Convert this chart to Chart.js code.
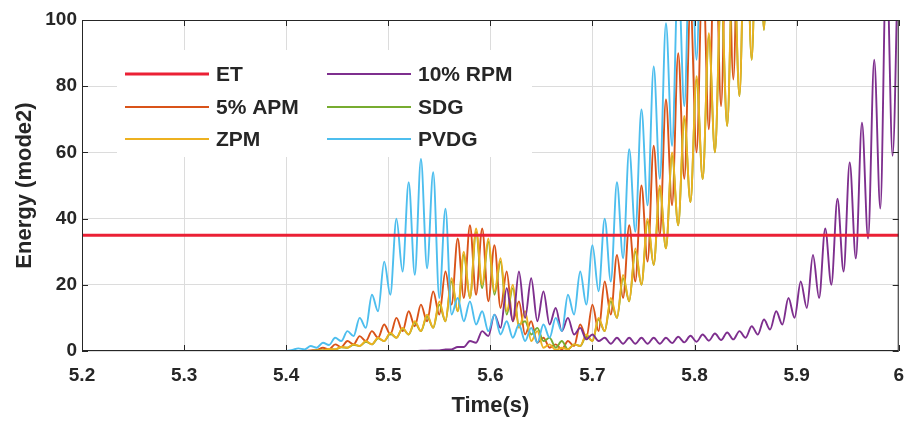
<!DOCTYPE html>
<html lang="en">
<head>
  <meta charset="UTF-8">
  <title>Energy (mode2)</title>
  <style>
    body {
      margin: 0;
      padding: 0;
      background: #ffffff;
    }

    .chart-box {
      width: 917px;
      height: 422px;
    }
  </style>
</head>
<body>
  <div class="chart-box">
    <canvas id="energyChart" width="917" height="422"></canvas>
  </div>

  <script src="https://cdn.jsdelivr.net/npm/chart.js"></script>
  <script>
    // time axis (s) shared by the oscillating series: 5.2 then every 6 ms from 5.4
    const times = [
      5.2,
      5.400, 5.406, 5.412, 5.418, 5.424, 5.430, 5.436, 5.442, 5.448, 5.454,
      5.460, 5.466, 5.472, 5.478, 5.484, 5.490, 5.496, 5.502, 5.508, 5.514,
      5.520, 5.526, 5.532, 5.538, 5.544, 5.550, 5.556, 5.562, 5.568, 5.574,
      5.580, 5.586, 5.592, 5.598, 5.604, 5.610, 5.616, 5.622, 5.628, 5.634,
      5.640, 5.646, 5.652, 5.658, 5.664, 5.670, 5.676, 5.682, 5.688, 5.694,
      5.700, 5.706, 5.712, 5.718, 5.724, 5.730, 5.736, 5.742, 5.748, 5.754,
      5.760, 5.766, 5.772, 5.778, 5.784, 5.790, 5.796, 5.802, 5.808, 5.814,
      5.820, 5.826, 5.832, 5.838, 5.844, 5.850, 5.856, 5.862, 5.868, 5.874,
      5.880, 5.886, 5.892, 5.898, 5.904, 5.910, 5.916, 5.922, 5.928, 5.934,
      5.940, 5.946, 5.952, 5.958, 5.964, 5.970, 5.976, 5.982, 5.988, 5.994,
      6.000
    ];

    // energy threshold
    const etTime = [5.2, 6.0];
    const etEnergy = [35, 35];

    // energy values (peaks / troughs)
    const pvdg = [
      0,
      0, 0.3, 0.8, 0.5, 1.5, 1, 2.5, 1.8, 4, 3,
      6, 4.5, 10, 7, 17, 12, 27, 17, 40, 24,
      51, 23, 58, 25, 54, 16, 43, 11, 16, 9,
      15, 8, 12, 6, 11, 5, 9, 4, 8, 3,
      7, 2.5, 8, 4, 10, 6, 17, 11, 24, 14,
      32, 18, 40, 21, 51, 28, 61, 36, 73, 44,
      86, 52, 99, 62, 115, 74, 130, 88, 150, 103,
      170
    ];

    const apm = [
      0,
      0, 0, 0, 0, 0.2, 0.3, 1, 0.5, 2, 1.2,
      3, 2, 4.5, 3, 6, 4, 8, 5, 10, 6,
      12, 7.5, 14, 9, 18, 11, 24, 14, 34, 16,
      38, 17, 37, 15, 32, 13, 24, 9, 15, 5,
      9, 2.5, 4, 1, 2, 0.5, 3, 1.5, 8, 4,
      14, 6, 21, 11, 29, 16, 38, 21, 50, 27,
      62, 35, 76, 44, 90, 52, 105, 60, 118, 67,
      130, 74, 140, 82, 150, 100, 170
    ];

    const zpm = [
      0,
      0, 0, 0, 0, 0, 0.2, 0.2, 0.6, 0.5, 1.2,
      1, 2, 1.5, 3, 2, 4, 3, 5.5, 4, 7,
      5, 9, 6, 11, 7, 15, 9, 22, 12, 30,
      16, 37, 20, 34, 18, 28, 12, 20, 7, 12,
      3, 6, 1, 2, 0.3, 1, 0.5, 2, 1.5, 5,
      3, 10, 6, 16, 10, 23, 15, 31, 20, 40,
      26, 50, 31, 60, 38, 71, 45, 83, 52, 96,
      60, 110, 68, 125, 77, 140, 88, 155, 97, 170,
      130
    ];

    const sdg = [
      0,
      0, 0, 0, 0, 0, 0.2, 0.2, 0.5, 0.5, 1.1,
      1, 1.9, 1.5, 2.8, 2, 3.8, 3, 5.2, 4, 6.8,
      5, 8.6, 6, 10.5, 7, 14, 9, 21, 12, 29,
      16, 36, 19, 33, 17, 27, 11, 19, 8, 9,
      5, 7, 3, 4, 1, 3, 0.5, 2, 1.5, 4.5,
      3, 9.5, 6, 15, 10, 22, 15, 30, 20, 39,
      26, 49, 31, 59, 38, 70, 45, 82, 52, 95,
      60, 108, 68, 122, 77, 138, 88, 152, 97, 168
    ];

    const rpm = [
      0,
      0, 0, 0, 0, 0, 0, 0, 0, 0, 0,
      0, 0, 0, 0, 0, 0, 0, 0, 0, 0,
      0, 0, 0.1, 0.1, 0.2, 0.2, 0.5, 0.5, 1.2, 1.2,
      3, 2.5, 6, 4.5, 11, 7, 19, 9, 24, 10,
      22, 9, 18, 8, 13, 6, 10, 5, 7, 3.5,
      5, 3, 4, 2.2, 4, 2.2, 4, 2.2, 4, 2.2,
      4, 2.2, 4, 2.4, 4.3, 2.6, 4.6, 2.8, 5, 3.1,
      5.3, 3.3, 5.6, 3.5, 6, 4, 7.5, 5, 9.5, 6.5,
      12, 8, 16, 10, 21, 13, 29, 16, 37, 20,
      46, 24, 57, 28, 69, 34, 88, 43, 120, 59,
      130
    ];

    const FONT = "'Liberation Sans', Arial, Helvetica, sans-serif";
    const INK = '#262626';

    function toPoints(xs, ys) {
      return ys.map((y, i) => ({ x: xs[i], y: y }));
    }

    function line(label, xs, ys, color, width, order) {
      return {
        label: label,
        data: toPoints(xs, ys),
        borderColor: color,
        backgroundColor: color,
        borderWidth: width,
        pointRadius: 0,
        cubicInterpolationMode: 'monotone',
        fill: false,
        order: order
      };
    }

    // legend is drawn by hand: two columns like the original figure
    const legendCells = [
      { label: 'ET', col: 0, row: 0 },
      { label: '5% APM', col: 0, row: 1 },
      { label: 'ZPM', col: 0, row: 2 },
      { label: '10% RPM', col: 1, row: 0 },
      { label: 'SDG', col: 1, row: 1 },
      { label: 'PVDG', col: 1, row: 2 }
    ];

    const figurePlugin = {
      id: 'figureBox',
      afterDatasetsDraw(chart) {
        const ctx = chart.ctx;
        const colX = [125, 327];
        const rowY = [74, 107, 139];
        ctx.save();
        ctx.fillStyle = '#ffffff';
        ctx.fillRect(117, 50, 415, 107);
        ctx.font = 'bold 21px ' + FONT;
        ctx.textBaseline = 'middle';
        ctx.textAlign = 'left';
        legendCells.forEach(cell => {
          const ds = chart.data.datasets.find(d => d.label === cell.label);
          const x = colX[cell.col];
          const y = rowY[cell.row];
          ctx.strokeStyle = ds.borderColor;
          ctx.lineWidth = ds.borderWidth;
          ctx.beginPath();
          ctx.moveTo(x, y);
          ctx.lineTo(x + 84, y);
          ctx.stroke();
          ctx.fillStyle = INK;
          ctx.fillText(cell.label, x + 91, y + 1);
        });
        ctx.restore();
      },
      afterDraw(chart) {
        const ctx = chart.ctx;
        const a = chart.chartArea;
        const xs = chart.scales.x;
        const ys = chart.scales.y;
        const tick = 6;
        ctx.save();
        ctx.strokeStyle = INK;
        ctx.lineWidth = 1;
        ctx.strokeRect(a.left + 0.5, a.top + 0.5, a.right - a.left - 1, a.bottom - a.top - 1);
        ctx.beginPath();
        xs.ticks.forEach(t => {
          const px = Math.round(xs.getPixelForValue(t.value)) + 0.5;
          ctx.moveTo(px, a.bottom);
          ctx.lineTo(px, a.bottom - tick);
          ctx.moveTo(px, a.top);
          ctx.lineTo(px, a.top + tick);
        });
        ys.ticks.forEach(t => {
          const py = Math.round(ys.getPixelForValue(t.value)) + 0.5;
          ctx.moveTo(a.left, py);
          ctx.lineTo(a.left + tick, py);
          ctx.moveTo(a.right, py);
          ctx.lineTo(a.right - tick, py);
        });
        ctx.stroke();
        ctx.restore();
      }
    };

    const ctx = document.getElementById('energyChart').getContext('2d');

    new Chart(ctx, {
      type: 'line',
      data: {
        datasets: [
          line('ET', etTime, etEnergy, '#eb2035', 3, 0),
          line('PVDG', times, pvdg, '#4dbeee', 1.9, 1),
          line('10% RPM', times, rpm, '#7e2f8e', 1.9, 2),
          line('ZPM', times, zpm, '#edb120', 1.9, 3),
          line('SDG', times, sdg, '#77ac30', 1.9, 4),
          line('5% APM', times, apm, '#d95319', 1.9, 5)
        ]
      },
      options: {
        responsive: false,
        animation: false,
        layout: {
          padding: { top: 20, right: 10, left: 0, bottom: 0 }
        },
        plugins: {
          legend: { display: false },
          tooltip: { enabled: false }
        },
        scales: {
          x: {
            type: 'linear',
            min: 5.2,
            max: 6,
            border: { display: false },
            grid: { color: '#dcdcdc', drawTicks: false },
            ticks: {
              stepSize: 0.1,
              padding: 13,
              maxRotation: 0,
              color: INK,
              font: { family: FONT, size: 19, weight: 'bold' },
              callback: value => String(Number(value.toFixed(1)))
            },
            title: {
              display: true,
              text: 'Time(s)',
              color: INK,
              font: { family: FONT, size: 22, weight: 'bold' },
              padding: { top: 0, bottom: 3 }
            },
            afterFit: scale => { scale.height = 71; }
          },
          y: {
            min: 0,
            max: 100,
            border: { display: false },
            grid: { color: '#dcdcdc', drawTicks: false },
            ticks: {
              stepSize: 20,
              padding: 5,
              color: INK,
              font: { family: FONT, size: 19, weight: 'bold' }
            },
            title: {
              display: true,
              text: 'Energy (mode2)',
              color: INK,
              font: { family: FONT, size: 22, weight: 'bold' },
              padding: { top: 12, bottom: 0 }
            },
            afterFit: scale => { scale.width = 82; }
          }
        }
      },
      plugins: [figurePlugin]
    });
  </script>
</body>
</html>
